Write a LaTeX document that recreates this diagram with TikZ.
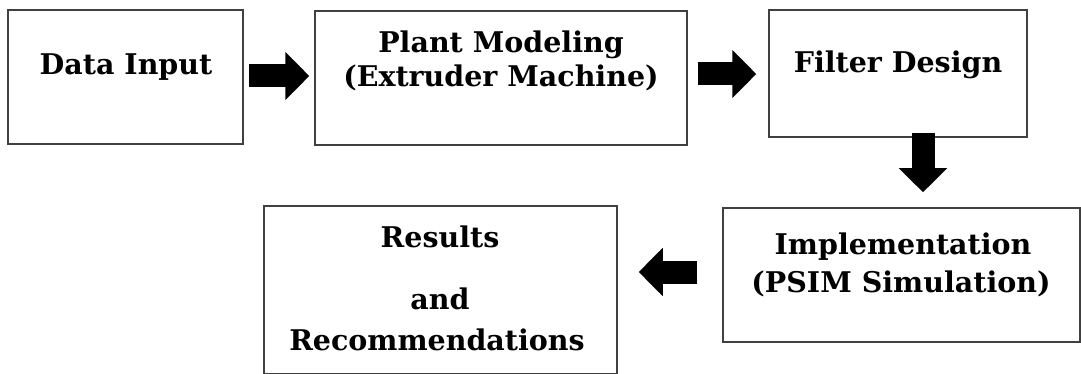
\documentclass[tikz,border=0pt]{standalone}
\usepackage{fontspec}
\setmainfont{DejaVu Serif}
\usetikzlibrary{arrows.meta,calc}
\begin{document}
\begin{tikzpicture}[x=1pt,y=-1pt,
  box/.style={draw=black!75,line width=1.5pt,fill=white,rectangle,inner sep=0pt},
  lbl/.style={anchor=base,inner sep=0pt,font=\bfseries\fontsize{28.5}{34}\selectfont},
  blockarrow/.style={draw=black,line width=23pt,-{Triangle[width=47pt,length=24pt]}}]
\useasboundingbox (0,0) rectangle (1081,374);
\clip (0,0) rectangle (1081,374);
% boxes
\node[box,minimum width=235pt,minimum height=134pt] (b1) at (125.5,77) {};
\node[box,minimum width=372pt,minimum height=134pt] (b2) at (501,78) {};
\node[box,minimum width=258pt,minimum height=127pt] (b3) at (898,73.5) {};
\node[box,minimum width=357pt,minimum height=134pt] (b4) at (901.5,275) {};
\node[box,minimum width=353pt,minimum height=168pt] (b5) at (440.5,290) {};
% texts
\node[lbl] (t1) at (126,75) {Data Input};
\node[lbl] (t2a) at (501,53) {Plant Modeling};
\node[lbl] (t2b) at (501,87) {(Extruder Machine)};
\node[lbl] (t3) at (898,73) {Filter Design};
\node[lbl] (t4a) at (903,254) {Implementation};
\node[lbl] (t4b) at (901,292) {(PSIM Simulation)};
\node[lbl] (t5a) at (440,247) {Results};
\node[lbl] (t5b) at (440,309) {and};
\node[lbl] (t5c) at (437,350) {Recommendations};
% block arrows
\draw[blockarrow] ($(b1.east)+(5,-1)$) -- ($(b2.west)+(-5,-2)$);
\draw[blockarrow] ($(b2.east)+(10,-4)$) -- ($(b3.west)+(-12,0.5)$);
\draw[blockarrow] ($(b3.south)+(25,-5)$) -- ($(b4.north)+(21.5,-15)$);
\draw[blockarrow] ($(b4.west)+(-25,-3)$) -- ($(b5.east)+(21,-18)$);
\end{tikzpicture}
\end{document}
